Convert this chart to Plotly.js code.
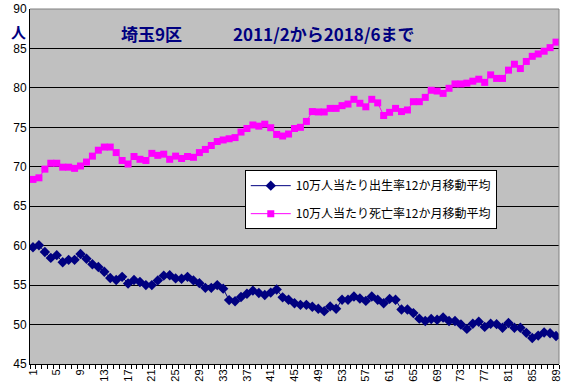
<!DOCTYPE html>
<html>
<head>
<meta charset="utf-8">
<script src="https://cdn.plot.ly/plotly-3.0.1.min.js"></script>
<style>html,body{margin:0;padding:0;background:#fff;}#chart{width:565px;height:391px;}</style>
</head>
<body>
<div id="chart"></div>
<script>
const months = Array.from({length: 89}, (_, i) => i + 1);
const xTickLabels = ['1','5','9','13','17','21','25','29','33','37','41','45','49','53','57','61','65','69','73','77','81','85','89'];
const birthName = '10万人当たり出生率12か月移動平均';
const deathName = '10万人当たり死亡率12か月移動平均';
const birthRate = [
  59.8, 60.05, 59.2, 58.45, 58.8, 57.9, 58.2, 58.2, 58.95, 58.35,
  57.65, 57.3, 56.7, 55.9, 55.65, 56.05, 55.2, 55.65, 55.4, 55.0,
  55.0, 55.6, 56.2, 56.25, 55.85, 55.8, 56.05, 55.6, 55.25, 54.65,
  54.65, 55.0, 54.55, 53.1, 52.95, 53.5, 53.9, 54.3, 54.0, 53.75,
  54.05, 54.45, 53.45, 53.15, 52.7, 52.5, 52.5, 52.25, 52.0, 51.7,
  52.3, 52.0, 53.15, 53.15, 53.55, 53.3, 53.0, 53.55, 53.15, 52.7,
  53.25, 53.15, 51.9, 51.9, 51.45, 50.75, 50.45, 50.7, 50.6, 50.9,
  50.45, 50.45, 50.0, 49.45, 50.1, 50.35, 49.7, 50.1, 50.05, 49.6,
  50.2, 49.6, 49.6, 48.95, 48.3, 48.6, 49.0, 48.9, 48.55
];
const deathRate = [
  68.4, 68.6, 69.7, 70.45, 70.45, 69.95, 69.95, 69.8, 70.1, 70.6,
  71.35, 72.1, 72.5, 72.5, 71.8, 70.8, 70.35, 71.3, 70.95, 70.8,
  71.7, 71.45, 71.6, 70.95, 71.35, 71.05, 71.3, 71.2, 71.8, 72.2,
  72.7, 73.2, 73.4, 73.55, 73.7, 74.4, 74.85, 75.3, 75.15, 75.4,
  74.95, 74.1, 73.9, 74.15, 74.85, 75.0, 75.75, 77.0, 76.95, 76.95,
  77.4, 77.4, 77.75, 77.95, 78.55, 78.05, 77.6, 78.55, 78.1, 76.5,
  76.9, 77.4, 77.0, 77.2, 78.25, 78.25, 78.8, 79.7, 79.6, 79.3,
  79.95, 80.5, 80.5, 80.6, 80.85, 81.1, 80.7, 81.65, 81.2, 81.2,
  82.25, 83.0, 82.45, 83.35, 84.0, 84.3, 84.65, 85.1, 85.8
];
const titleText = '埼玉9区　　　2011/2から2018/6まで';
const yUnit = '人';

const traces = [
  {
    x: months, y: birthRate, name: birthName, type: 'scatter', mode: 'lines+markers',
    line: {color: '#000080', width: 1},
    marker: {symbol: 'diamond', size: 8, color: '#000080'},
    legendgroup: 'a'
  },
  {
    x: months, y: deathRate, name: deathName, type: 'scatter', mode: 'lines+markers',
    line: {color: '#ff00ff', width: 1},
    marker: {symbol: 'square', size: 7, color: '#ff00ff'},
    legendgroup: 'b'
  }
];

const layout = {
  width: 565, height: 391,
  margin: {l: 30, r: 6, t: 9, b: 27, pad: 0},
  paper_bgcolor: '#ffffff',
  plot_bgcolor: '#c0c0c0',
  font: {family: 'Arial, "Liberation Sans", sans-serif', size: 11, color: '#000'},
  showlegend: true,
  legend: {
    x: 0.406, y: 0.546, xanchor: 'left', yanchor: 'top',
    bgcolor: '#ffffff', bordercolor: '#000000', borderwidth: 1,
    font: {family: '"Noto Sans CJK JP", sans-serif', size: 12, color: '#000'},
    tracegroupgap: 9, itemwidth: 40
  },
  xaxis: {
    range: [0.5, 89.5], tickmode: 'array',
    tickvals: xTickLabels.map(Number), ticktext: xTickLabels,
    tickangle: -90, ticks: '', showgrid: false, zeroline: false,
    showline: true, linecolor: '#000', linewidth: 1,
    tickfont: {size: 11, color: '#000'},
    minor: {ticks: 'outside', ticklen: 4, tickcolor: '#000', tick0: 0.5, dtick: 1, showgrid: false}
  },
  yaxis: {
    range: [45, 90], dtick: 5, tick0: 45, showgrid: true, gridcolor: '#000', gridwidth: 1,
    zeroline: false, showline: true, linecolor: '#000', linewidth: 1, ticks: '',
    tickfont: {size: 12, color: '#000'}
  },
  shapes: [
    {type: 'line', xref: 'paper', yref: 'paper', x0: 0, x1: 1, y0: 1, y1: 1, line: {color: '#808080', width: 1}},
    {type: 'line', xref: 'paper', yref: 'paper', x0: 1, x1: 1, y0: 0, y1: 1, line: {color: '#808080', width: 1}}
  ],
  annotations: [
    {text: titleText, xref: 'paper', yref: 'paper', x: 0.168, y: 0.932, xanchor: 'left', yanchor: 'middle',
     showarrow: false, font: {family: '"Noto Sans CJK JP", sans-serif', size: 17, color: '#000080', weight: 'bold'}},
    {text: yUnit, xref: 'paper', yref: 'paper', x: -0.021, y: 0.972, xanchor: 'center', yanchor: 'top',
     showarrow: false, font: {family: '"Noto Sans CJK JP", sans-serif', size: 15, color: '#000080', weight: 'bold'}}
  ]
};

Plotly.newPlot('chart', traces, layout, {displayModeBar: false, staticPlot: true});
</script>
</body>
</html>
